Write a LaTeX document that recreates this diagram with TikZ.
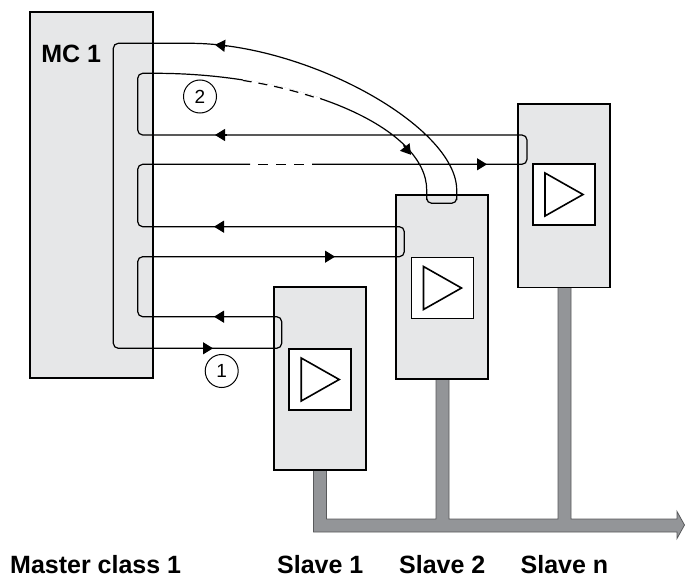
\documentclass[tikz,border=0pt]{standalone}
\usepackage{fontspec}
\setmainfont{Liberation Sans}
\usetikzlibrary{arrows.meta}
\definecolor{boxfill}{HTML}{E6E7E8}
\definecolor{pipefill}{HTML}{939598}
\definecolor{pipeline}{HTML}{58595B}
\begin{document}
\begin{tikzpicture}[x=1pt,y=-1pt,
  box/.style={draw=black, line width=1.8pt, fill=boxfill, anchor=north west, inner sep=0pt, outer sep=0pt},
  amp/.style={draw=black, line width=1.8pt, fill=white, minimum width=62pt, minimum height=61pt, inner sep=0pt},
  ring/.style={line width=1.2pt, rounded corners=5pt},
  arrowpiece/.style={-{Triangle[length=10pt,width=12pt]}, line width=1.2pt},
  lbl/.style={font=\fontsize{25}{25}\selectfont\bfseries, anchor=base west, inner sep=0pt},
  num/.style={draw, circle, line width=1pt, minimum size=33pt, inner sep=0pt, font=\fontsize{19}{19}\selectfont}
]
\useasboundingbox (0,0) rectangle (685,578);

% bus pipe
\draw[fill=pipefill, draw=pipeline, line width=0.8pt]
  (313.5,470) -- (313.5,532) -- (677,532) -- (677,538.5) -- (684.5,525) -- (677,511.5) -- (677,519)
  -- (571,519) -- (571,287) -- (558,287) -- (558,519) -- (449,519) -- (449,379) -- (436,379)
  -- (436,519) -- (326.5,519) -- (326.5,470) -- cycle;

% boxes
\node[box, minimum width=122.7pt, minimum height=365.7pt] (mc) at (30,12.3) {};
\node[box, minimum width=92pt, minimum height=183.5pt] (s1) at (274,286.7) {};
\node[box, minimum width=92pt, minimum height=183.5pt] (s2) at (396,195.3) {};
\node[box, minimum width=92pt, minimum height=183.5pt] (sn) at (518.3,104) {};

% amplifiers
\foreach \n/\p in {a1/{(320.2,379.5)}, a2/{(442.5,288)}, an/{(564,194.5)}} {
  \node[amp] (\n) at \p {};
  \draw[line width=1.6pt, line join=miter] ([xshift=-19pt,yshift=21.5pt]\n.center) -- ([xshift=19pt]\n.center)
     -- ([xshift=-19pt,yshift=-21.5pt]\n.center) -- cycle;
}

% ring
\draw[ring] (250,164.3) -- (137.7,164.3) -- (137.7,226.7) -- (404.3,226.7) -- (404.3,256.7)
  -- (137.7,256.7) -- (137.7,316.7) -- (281.7,316.7) -- (281.7,348.3) -- (113.3,348.3)
  -- (113.3,43.3) -- (185,43.3) .. controls (307,43.3) and (456.7,126.7) .. (456.7,195)
  -- (456.7,203.3) -- (426.7,203.3) -- (426.7,195) .. controls (426.7,128.1) and (302.2,73.3) .. (150,73.3)
  -- (137.7,73.3) -- (137.7,135) -- (527,135) -- (527,164.3) -- (312,164.3);
\draw[line width=1.2pt, dash pattern=on 10pt off 8pt] (258,164.3) -- (304,164.3);
\begin{scope}
  \clip (243,76) rectangle (320,112);
  \draw[white, line width=3pt] (150,73.3) .. controls (302.2,73.3) and (426.7,128.1) .. (426.7,195);
  \draw[line width=1.2pt, dash pattern=on 9pt off 7pt, dash phase=3pt] (150,73.3) .. controls (302.2,73.3) and (426.7,128.1) .. (426.7,195);
\end{scope}

% arrowheads
\draw[arrowpiece] (227,46) -- (215,44.8);
\draw[arrowpiece] (403.5,145.4) -- (411,154.8);
\draw[arrowpiece] (227,135) -- (215,135);
\draw[arrowpiece] (475,164.3) -- (487,164.3);
\draw[arrowpiece] (226,226.7) -- (214,226.7);
\draw[arrowpiece] (323,256.7) -- (335,256.7);
\draw[arrowpiece] (226,316.7) -- (214,316.7);
\draw[arrowpiece] (201,348.3) -- (213,348.3);

% number markers
\node[num] (n2) at (200,96.5) {2};
\node[num] (n1) at (221.7,371) {1};

% labels
\node[lbl] (mct) at (41.2,62.7) {MC 1};
\node[lbl] (lm) at (10,573) {Master class 1};
\node[lbl] (l1) at (277,573) {Slave 1};
\node[lbl] (l2) at (399,573) {Slave 2};
\node[lbl] (ln) at (520.5,573) {Slave n};
\end{tikzpicture}
\end{document}
